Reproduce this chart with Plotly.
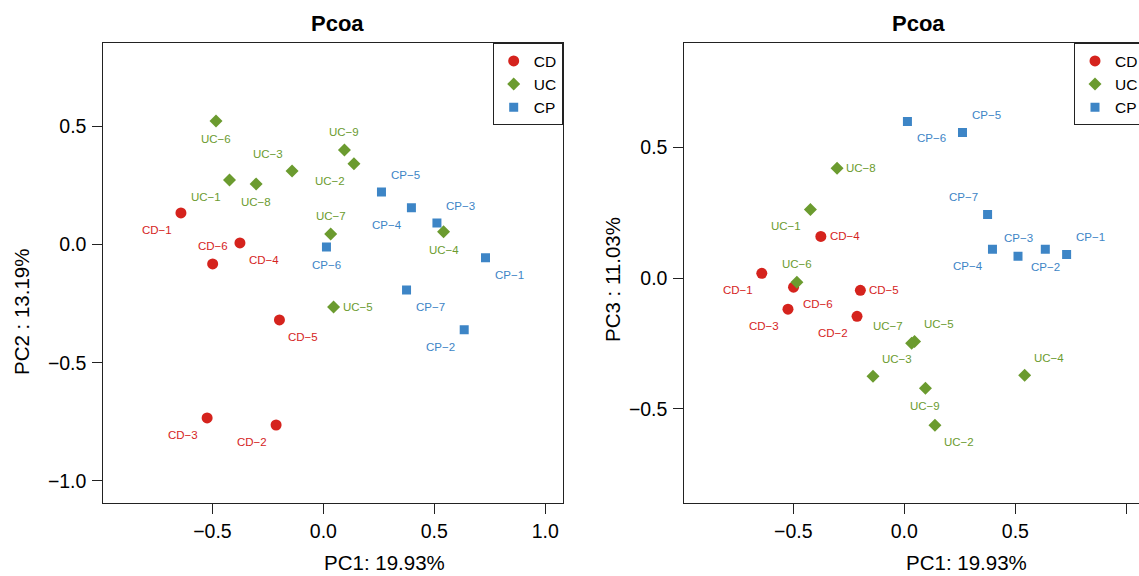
import plotly.graph_objects as go

# ---------------- data ----------------
groups = ["CD", "UC", "CP"]
colors = {"CD": "#d5231d", "UC": "#6b9b2f", "CP": "#3d85c6"}
symbols = {"CD": "circle", "UC": "diamond", "CP": "square"}
sizes = {"CD": 11, "UC": 10, "CP": 9}

cd_names = ["CD-1", "CD-2", "CD-3", "CD-4", "CD-5", "CD-6"]
cd_pc1 = [-0.642, -0.213, -0.524, -0.376, -0.198, -0.499]
cd_pc2 = [0.134, -0.764, -0.734, 0.007, -0.319, -0.082]
cd_pc3 = [0.018, -0.146, -0.119, 0.159, -0.047, -0.035]

uc_names = ["UC-1", "UC-2", "UC-3", "UC-4", "UC-5", "UC-6", "UC-7", "UC-8", "UC-9"]
uc_pc1 = [-0.423, 0.138, -0.141, 0.542, 0.046, -0.484, 0.033, -0.303, 0.095]
uc_pc2 = [0.274, 0.342, 0.312, 0.054, -0.264, 0.524, 0.045, 0.257, 0.401]
uc_pc3 = [0.262, -0.562, -0.375, -0.371, -0.242, -0.016, -0.249, 0.419, -0.421]

cp_names = ["CP-1", "CP-2", "CP-3", "CP-4", "CP-5", "CP-6", "CP-7"]
cp_pc1 = [0.731, 0.635, 0.512, 0.397, 0.262, 0.014, 0.375]
cp_pc2 = [-0.056, -0.361, 0.092, 0.156, 0.223, -0.010, -0.192]
cp_pc3 = [0.090, 0.110, 0.083, 0.110, 0.556, 0.598, 0.243]

# label placement relative to each point (style only)
cd_pos12 = ["bl", "bl", "bl", "br", "br", "t"]
uc_pos12 = ["bl", "bl", "tl", "b", "r", "b", "t", "b", "t"]
cp_pos12 = ["br", "bl", "tr", "bl", "tr", "b", "br"]
cd_pos13 = ["bl", "bl", "bl", "r", "r", "br"]
uc_pos13 = ["bl", "br", "tr", "tr", "tr", "t", "tl", "r", "b"]
cp_pos13 = ["tr", "b", "t", "bl", "tr", "br", "tl"]

x_ticks = [-0.5, 0.0, 0.5, 1.0]
y12_ticks = [-1.0, -0.5, 0.0, 0.5]
y13_ticks = [-0.5, 0.0, 0.5]

title_text = "Pcoa"
xlab = "PC1: 19.93%"
ylab2 = "PC2 : 13.19%"
ylab3 = "PC3 : 11.03%"

data = {
    "CD": (cd_names, cd_pc1, cd_pc2, cd_pc3, cd_pos12, cd_pos13),
    "UC": (uc_names, uc_pc1, uc_pc2, uc_pc3, uc_pos12, uc_pos13),
    "CP": (cp_names, cp_pc1, cp_pc2, cp_pc3, cp_pos12, cp_pos13),
}

FONT = "Liberation Sans, Arial, Helvetica, sans-serif"
W, H = 1139, 576
offs = {"bl": (-24, -17), "br": (24, -17), "tl": (-24, 17), "tr": (24, 17),
        "t": (0, 18), "b": (0, -18), "r": (24, 0), "l": (-24, 0)}

fig = go.Figure()
annotations = []
for g in groups:
    names, p1, p2, p3, pos12, pos13 = data[g]
    lab = [n.replace("-", "\u2212") for n in names]
    fig.add_trace(go.Scatter(
        x=p1, y=p2, mode="markers", name=g, xaxis="x", yaxis="y",
        marker=dict(color=colors[g], symbol=symbols[g], size=sizes[g], line=dict(width=0)),
        legend="legend", hoverinfo="text", text=names))
    fig.add_trace(go.Scatter(
        x=p1, y=p3, mode="markers", name=g, xaxis="x2", yaxis="y2",
        marker=dict(color=colors[g], symbol=symbols[g], size=sizes[g], line=dict(width=0)),
        legend="legend2", hoverinfo="text", text=names))
    for i in range(len(names)):
        dx, dy = offs[pos12[i]]
        annotations.append(dict(x=p1[i], y=p2[i], xref="x", yref="y", text=lab[i],
                                showarrow=False, xshift=dx, yshift=dy,
                                font=dict(family=FONT, size=11.5, color=colors[g])))
        dx, dy = offs[pos13[i]]
        annotations.append(dict(x=p1[i], y=p3[i], xref="x2", yref="y2", text=lab[i],
                                showarrow=False, xshift=dx, yshift=dy,
                                font=dict(family=FONT, size=11.5, color=colors[g])))

def px(xp):
    return xp / W

def py(yp):
    return 1 - yp / H

# titles and axis titles
for cx in [337, 918.6]:
    annotations.append(dict(x=px(cx), y=py(23), xref="paper", yref="paper", text="<b>%s</b>" % title_text,
                            showarrow=False, xanchor="center", yanchor="middle",
                            font=dict(family=FONT, size=22, color="#000")))
for cx in [384, 966]:
    annotations.append(dict(x=px(cx), y=0, xref="paper", yref="paper", text=xlab,
                            showarrow=False, xanchor="center", yanchor="bottom",
                            font=dict(family=FONT, size=20.5, color="#000")))
annotations.append(dict(x=px(21), y=py(312), xref="paper", yref="paper", text=ylab2, textangle=-90,
                        showarrow=False, xanchor="center", yanchor="middle",
                        font=dict(family=FONT, size=20.5, color="#000")))
annotations.append(dict(x=px(612), y=py(280), xref="paper", yref="paper", text=ylab3, textangle=-90,
                        showarrow=False, xanchor="center", yanchor="middle",
                        font=dict(family=FONT, size=20.5, color="#000")))

ydom = [py(502.7), py(43.2)]
axis_common = dict(showgrid=False, zeroline=False, showline=True, linecolor="#222", linewidth=1,
                   ticks="outside", ticklen=10, tickwidth=1, tickcolor="#222",
                   tickfont=dict(family=FONT, size=19.5, color="#000"), tickformat=".1f",
                   fixedrange=True)

fig.update_layout(
    width=W, height=H, margin=dict(l=0, r=0, t=0, b=0, autoexpand=False),
    paper_bgcolor="white", plot_bgcolor="white",
    xaxis=dict(domain=[px(103.3), px(562.7)], range=[-0.992, 1.079], anchor="y", mirror=True,
               tickvals=x_ticks, ticklabelstandoff=1, **axis_common),
    yaxis=dict(domain=ydom, range=[-1.093, 0.853], anchor="x", mirror=True,
               tickvals=y12_ticks, ticklabelstandoff=2, **axis_common),
    xaxis2=dict(domain=[px(684.3), 1.0], range=[-0.991, 1.057], anchor="y2", mirror=True,
                tickvals=x_ticks, ticklabelstandoff=1, **axis_common),
    yaxis2=dict(domain=ydom, range=[-0.858, 0.897], anchor="x2", mirror=False,
                tickvals=y13_ticks, ticklabelstandoff=2, **axis_common),
    legend=dict(x=px(562.7), xanchor="right", y=py(43.3), yanchor="top", bgcolor="white",
                bordercolor="#222", borderwidth=1, itemwidth=30,
                font=dict(family=FONT, size=15.5, color="#000")),
    legend2=dict(x=px(1074), xanchor="left", y=py(43.3), yanchor="top", bgcolor="white",
                 bordercolor="#222", borderwidth=1, itemwidth=30,
                 font=dict(family=FONT, size=15.5, color="#000")),
    annotations=annotations,
    showlegend=True,
)

fig.write_html("out.html")
